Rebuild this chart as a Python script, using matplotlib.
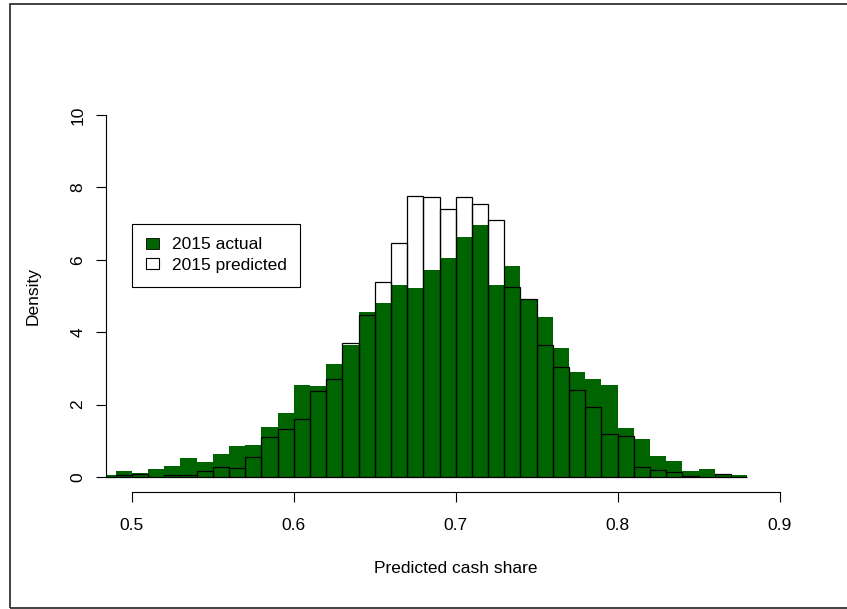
import numpy as np
import matplotlib
matplotlib.use("Agg")
from matplotlib import pyplot as plt
from matplotlib.patches import Patch, Rectangle

plt.rcParams['font.family'] = ['Liberation Sans', 'DejaVu Sans']
plt.rcParams['font.size'] = 12.5

# histogram bins (left edges, width 0.01)
bin_left = [0.48, 0.49, 0.50, 0.51, 0.52, 0.53, 0.54, 0.55, 0.56, 0.57,
            0.58, 0.59, 0.60, 0.61, 0.62, 0.63, 0.64, 0.65, 0.66, 0.67,
            0.68, 0.69, 0.70, 0.71, 0.72, 0.73, 0.74, 0.75, 0.76, 0.77,
            0.78, 0.79, 0.80, 0.81, 0.82, 0.83, 0.84, 0.85, 0.86, 0.87]
bin_width = 0.01

# density, 2015 actual
actual = [0.06, 0.18, 0.11, 0.22, 0.31, 0.52, 0.42, 0.64, 0.85, 0.88,
          1.37, 1.78, 2.55, 2.51, 3.13, 3.65, 4.56, 4.81, 5.30, 5.21,
          5.71, 6.04, 6.62, 6.96, 5.31, 5.83, 4.93, 4.41, 3.55, 2.91,
          2.72, 2.54, 1.35, 1.05, 0.59, 0.43, 0.18, 0.22, 0.08, 0.05]
# density, 2015 predicted
predicted = [0.00, 0.045, 0.08, 0.01, 0.045, 0.045, 0.165, 0.29, 0.24, 0.54,
             1.10, 1.32, 1.61, 2.38, 2.72, 3.70, 4.47, 5.38, 6.46, 7.77,
             7.74, 7.39, 7.74, 7.55, 7.10, 5.25, 4.92, 3.66, 3.04, 2.40,
             1.93, 1.18, 1.14, 0.29, 0.19, 0.15, 0.04, 0.00, 0.08, 0.00]

xticks = [0.5, 0.6, 0.7, 0.8, 0.9]
yticks = [0, 2, 4, 6, 8, 10]

green = '#006400'

fig = plt.figure(figsize=(8.47, 6.09), dpi=100)
ax = fig.add_axes([105.8 / 847, 117.5 / 609, 699.8 / 847, 391 / 609])

ax.bar(bin_left, actual, width=bin_width, align='edge', color=green,
       edgecolor='none', linewidth=0)
ax.bar(bin_left, predicted, width=bin_width, align='edge', fill=False,
       edgecolor='black', linewidth=0.9)

ax.set_xlim(0.484, 0.916)
ax.set_ylim(-0.4, 10.4)

for side in ['top', 'right']:
    ax.spines[side].set_visible(False)
ax.spines['left'].set_bounds(0, 10)
ax.spines['bottom'].set_bounds(0.5, 0.9)
for side in ['left', 'bottom']:
    ax.spines[side].set_linewidth(0.8)

ax.set_xticks(xticks)
ax.set_xticklabels([str(v) for v in xticks])
ax.set_yticks(yticks)
ax.set_yticklabels([str(v) for v in yticks], rotation=90, va='center')
ax.tick_params(axis='both', length=7.2, width=0.8, color='black')
ax.tick_params(axis='x', pad=12)
ax.tick_params(axis='y', pad=7.5)

ax.set_xlabel('Predicted cash share')
ax.xaxis.set_label_coords(0.5, -0.1957)
ax.xaxis.label.set_va('center')
ax.set_ylabel('Density')
ax.yaxis.set_label_coords(-0.104, 0.5)
ax.yaxis.label.set_va('center')

handles = [Patch(facecolor=green, edgecolor='black', linewidth=0.6),
           Patch(facecolor='white', edgecolor='black', linewidth=0.8)]
leg = ax.legend(handles, ['2015 actual', '2015 predicted'],
                loc='upper left', bbox_to_anchor=(0.5, 7),
                bbox_transform=ax.transData, borderaxespad=0,
                fancybox=False, edgecolor='black', framealpha=1,
                handlelength=0.8, handleheight=0.6, handletextpad=0.7,
                borderpad=0.8, labelspacing=0.3)
leg.get_frame().set_linewidth(0.8)

# outer frame of the screenshot
fig.patches.append(Rectangle((9.7 / 847, 1.5 / 609), 1.0, 1 - 5.8 / 609,
                             transform=fig.transFigure, fill=False,
                             edgecolor='#333333', linewidth=1.3))

fig.savefig('out.png', dpi=100)
